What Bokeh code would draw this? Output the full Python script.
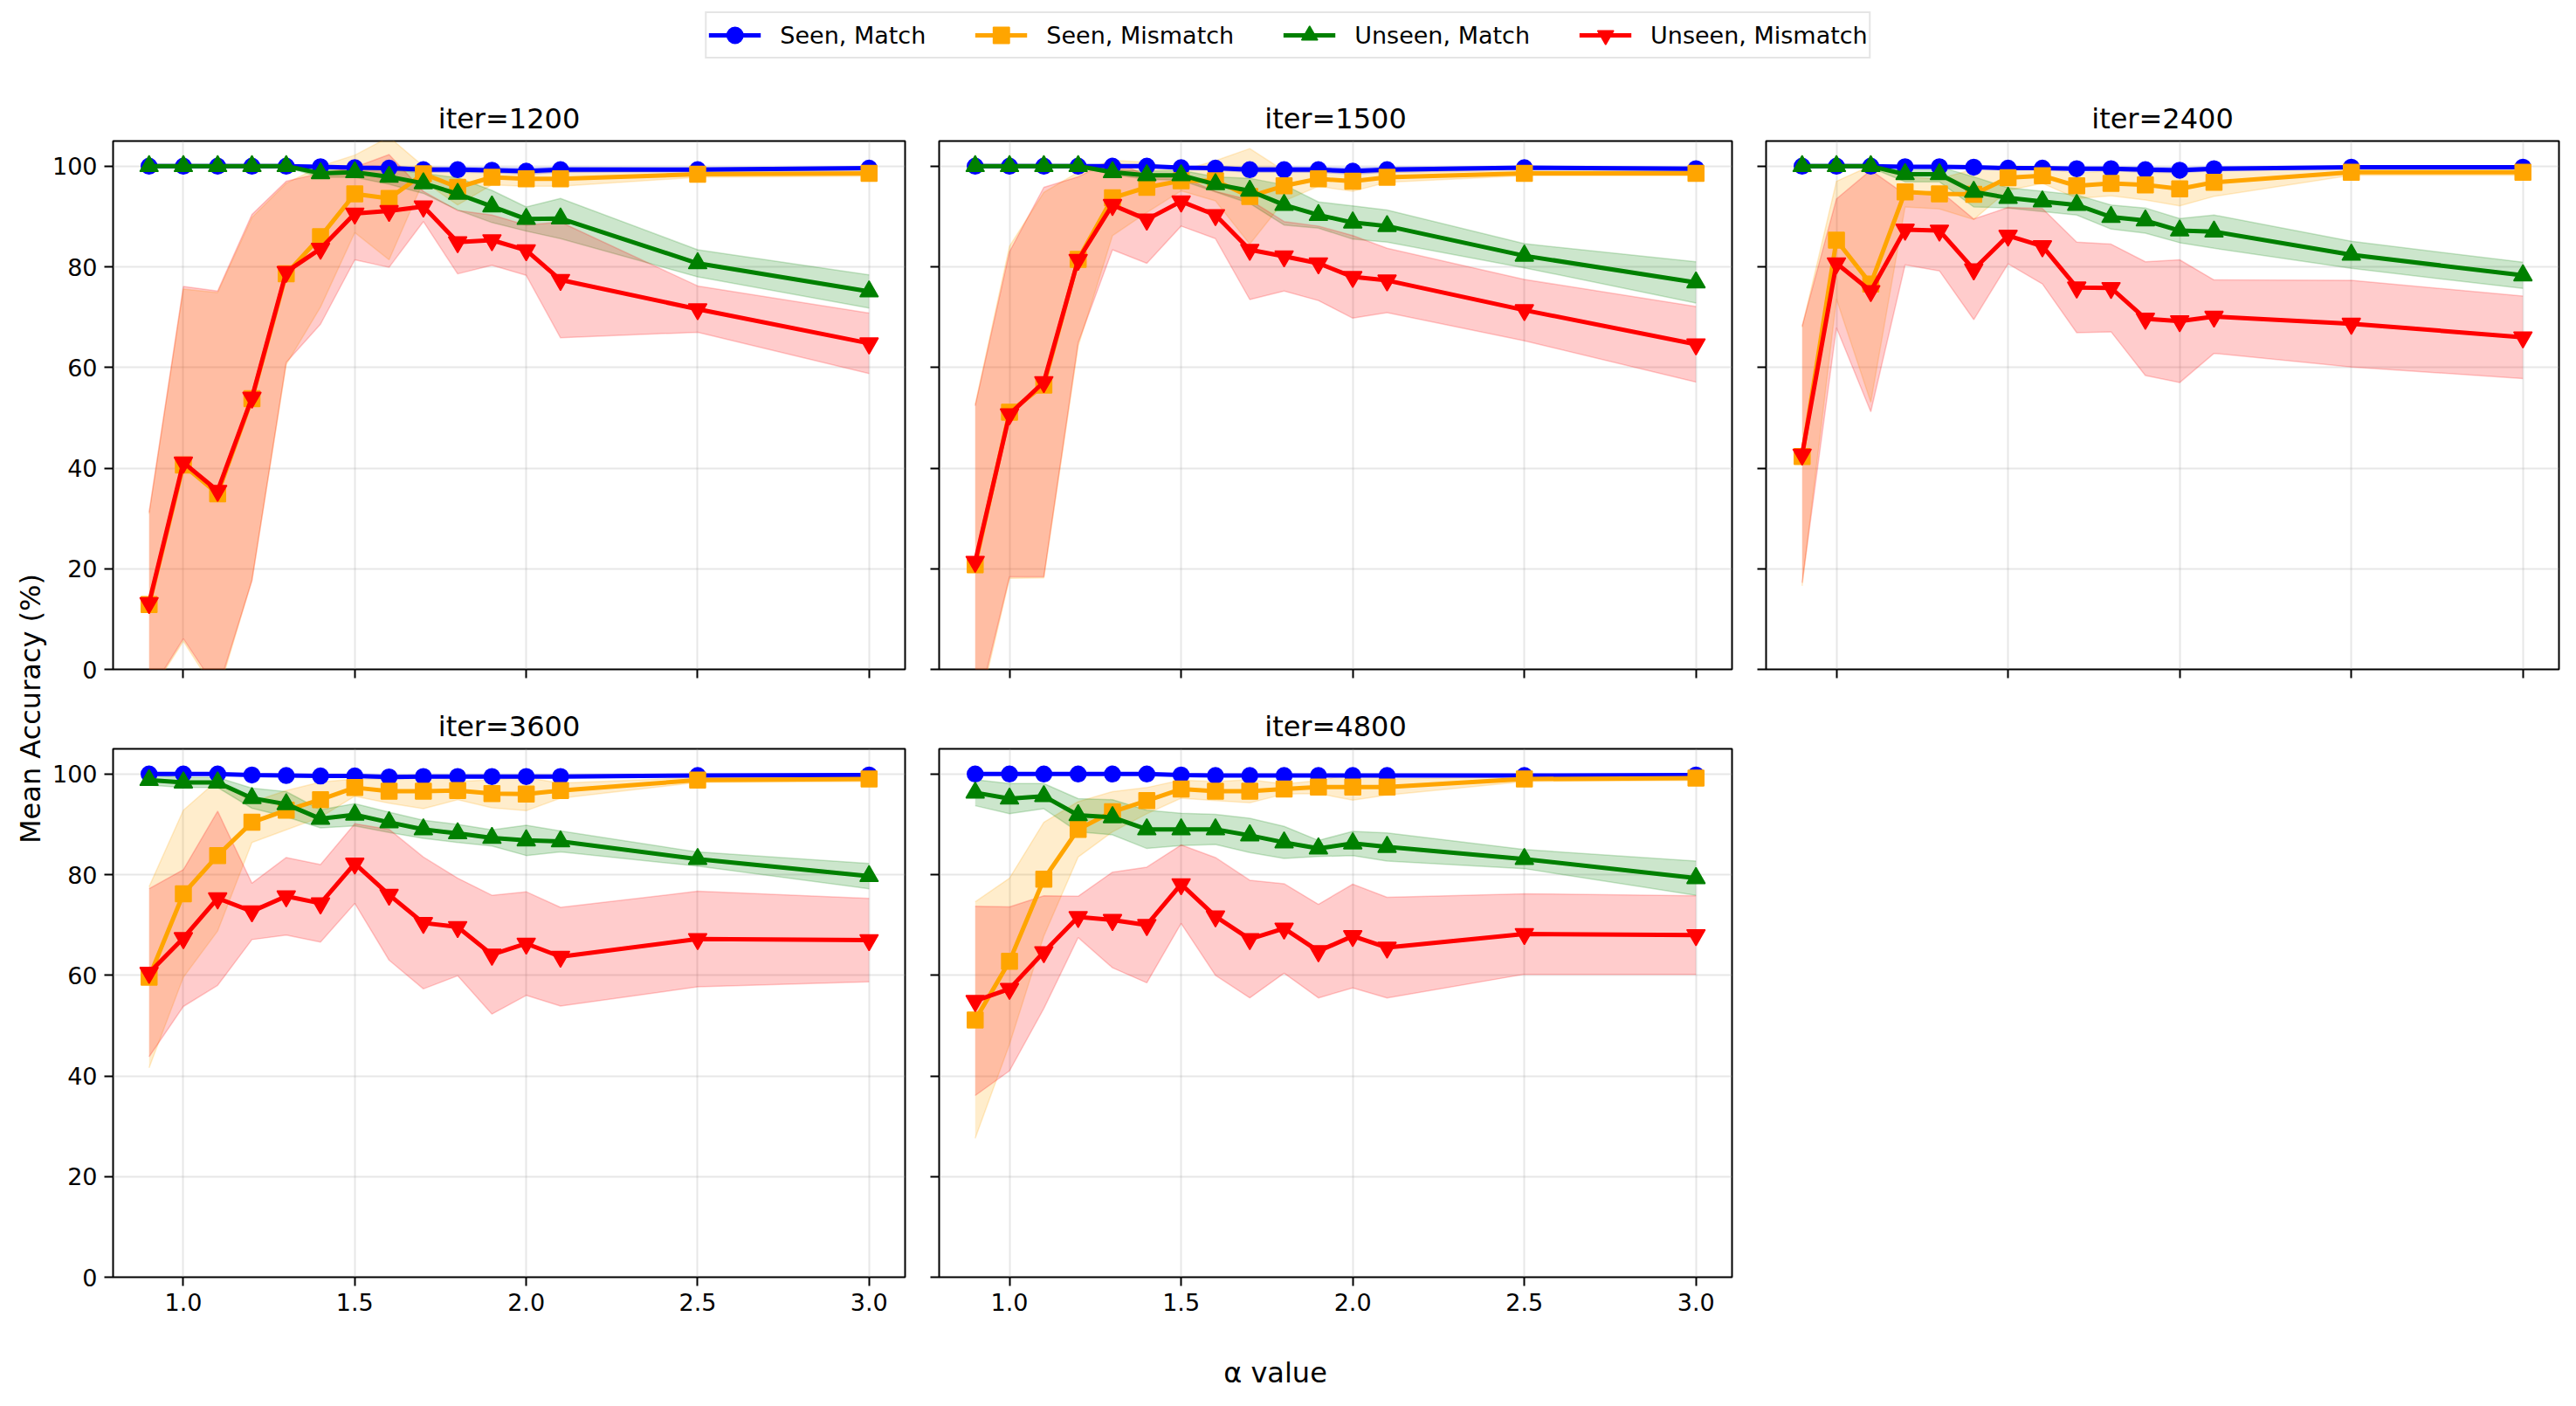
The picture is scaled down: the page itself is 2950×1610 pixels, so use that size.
import math

from bokeh.core.properties import value
from bokeh.embed import file_html
from bokeh.layouts import column, row
from bokeh.models import (FixedTicker, Legend, LegendItem, PrintfTickFormatter,
                          Range1d, Spacer)
from bokeh.plotting import figure
from bokeh.resources import INLINE

# ---------------------------------------------------------------- data
alphas = [0.9, 1.0, 1.1, 1.2, 1.3, 1.4, 1.5, 1.6, 1.7, 1.8, 1.9, 2.0, 2.1, 2.5, 3.0]
x_ticks = [1.0, 1.5, 2.0, 2.5, 3.0]
y_ticks = [0, 20, 40, 60, 80, 100]
iters = [1200, 1500, 2400, 3600, 4800]

# iter = 1200
seen_match_1200 = [100, 100, 100, 100, 100, 99.9, 99.7, 99.6, 99.3, 99.3, 99.2, 99.0, 99.3, 99.3, 99.6]
seen_match_sd_1200 = [0, 0, 0, 0, 0, 0.2, 0.3, 0.4, 0.5, 0.5, 0.5, 0.6, 0.5, 0.4, 0.3]
seen_mis_1200 = [12.9, 40.6, 34.9, 53.8, 78.6, 86.0, 94.5, 93.6, 98.5, 95.8, 97.8, 97.5, 97.5, 98.4, 98.6]
seen_mis_sd_1200 = [18, 35, 40, 36, 18, 14, 7.7, 12.2, 1.5, 3.5, 1.5, 1.5, 1.5, 0.6, 0.6]
unseen_match_1200 = [100, 100, 100, 100, 100, 98.6, 98.8, 97.9, 96.6, 94.5, 92.0, 89.5, 89.6, 80.7, 75.1]
unseen_match_sd_1200 = [0, 0, 0, 0, 0.2, 0.8, 1.0, 1.5, 2.0, 3.2, 3.2, 2.4, 4.0, 2.7, 3.3]
unseen_mis_1200 = [13.2, 41.1, 35.5, 54.0, 79.0, 83.6, 90.6, 91.1, 92.0, 84.9, 85.3, 83.3, 77.4, 71.6, 64.8]
unseen_mis_sd_1200 = [18, 35, 39.7, 36.4, 18, 15, 9.2, 11.2, 3.0, 6.3, 5.0, 5.0, 11.5, 4.6, 6.0]

# iter = 1500
seen_match_1500 = [100, 100, 100, 100, 100, 100, 99.7, 99.6, 99.3, 99.3, 99.3, 99.0, 99.3, 99.7, 99.5]
seen_match_sd_1500 = [0, 0, 0, 0, 0, 0.1, 0.3, 0.4, 0.5, 0.5, 0.5, 0.6, 0.5, 0.3, 0.4]
seen_mis_1500 = [20.8, 51.1, 56.5, 81.5, 93.7, 95.8, 97.1, 97.1, 94.0, 96.1, 97.5, 97.0, 97.8, 98.6, 98.6]
seen_mis_sd_1500 = [31.8, 33, 38.3, 17.3, 7.5, 5, 2, 4, 9.5, 3, 1.5, 2, 1, 0.5, 0.5]
unseen_match_1500 = [100, 100, 100, 100, 98.8, 98.2, 98.2, 96.4, 95.1, 92.3, 90.3, 88.8, 88.1, 82.2, 76.9]
unseen_match_sd_1500 = [0, 0, 0, 0, 0.5, 0.8, 1.0, 1.5, 2.5, 4.0, 2.6, 3.3, 3.2, 2.4, 4.1]
unseen_mis_1500 = [21.4, 50.7, 57.1, 81.4, 92.3, 89.4, 93.0, 90.3, 83.4, 82.1, 80.7, 78.0, 77.3, 71.4, 64.6]
unseen_mis_sd_1500 = [31, 32.3, 38.7, 16.5, 8.9, 8.7, 4.9, 4.7, 9.9, 6.9, 7.4, 8.2, 6.4, 6.1, 7.5]

# iter = 2400
seen_match_2400 = [100, 100, 100, 99.9, 99.9, 99.8, 99.6, 99.6, 99.5, 99.5, 99.3, 99.2, 99.5, 99.8, 99.8]
seen_match_sd_2400 = [0, 0, 0, 0.1, 0.1, 0.2, 0.3, 0.3, 0.4, 0.4, 0.5, 0.5, 0.4, 0.2, 0.2]
seen_mis_2400 = [42.3, 85.3, 76.6, 94.9, 94.5, 94.4, 97.7, 98.1, 96.1, 96.6, 96.3, 95.5, 96.8, 98.8, 98.8]
seen_mis_sd_2400 = [25.7, 11.7, 23.5, 3.0, 3.0, 5.0, 2.5, 1.5, 2.5, 2.5, 3.0, 3.4, 2.8, 0.6, 0.6]
unseen_match_2400 = [100, 100, 100, 98.4, 98.4, 94.9, 93.7, 93.0, 92.3, 89.9, 89.2, 87.2, 87.0, 82.4, 78.3]
unseen_match_sd_2400 = [0, 0, 0.3, 1.5, 1.5, 3.0, 2.0, 2.0, 2.0, 2.4, 2.5, 2.4, 3.3, 2.7, 2.6]
unseen_mis_2400 = [42.7, 80.7, 75.2, 87.4, 87.2, 79.5, 86.2, 84.1, 75.9, 75.8, 69.7, 69.2, 70.1, 68.7, 66.0]
unseen_mis_sd_2400 = [25.5, 12.8, 24.0, 7.0, 8.0, 10.0, 5.6, 7.5, 9.0, 8.7, 11.3, 12.2, 7.3, 8.6, 8.2]

# iter = 3600
seen_match_3600 = [100, 100, 100, 99.8, 99.7, 99.6, 99.6, 99.4, 99.5, 99.5, 99.5, 99.5, 99.5, 99.7, 99.8]
seen_match_sd_3600 = [0.1, 0.1, 0.1, 0.2, 0.2, 0.3, 0.3, 0.4, 0.3, 0.3, 0.3, 0.3, 0.3, 0.2, 0.2]
seen_mis_3600 = [59.6, 76.2, 83.8, 90.4, 92.8, 94.9, 97.3, 96.6, 96.6, 96.7, 96.1, 96.0, 96.7, 98.8, 99.0]
seen_mis_sd_3600 = [18, 16.6, 15, 4, 3.9, 3.5, 1.7, 2.4, 3.5, 1.8, 2.8, 3.3, 1.5, 0.5, 0.5]
unseen_match_3600 = [98.8, 98.3, 98.3, 95.2, 94.0, 91.1, 91.9, 90.4, 89.0, 88.2, 87.3, 86.8, 86.6, 83.1, 79.7]
unseen_match_sd_3600 = [1.0, 1.0, 1.0, 2.0, 2.5, 1.8, 2.2, 2.0, 1.8, 1.8, 1.6, 3.0, 2.1, 1.4, 2.5]
unseen_mis_3600 = [60.5, 67.4, 75.3, 72.7, 75.7, 74.3, 82.2, 76.0, 70.4, 69.6, 64.1, 66.3, 63.7, 67.2, 67.0]
unseen_mis_sd_3600 = [16.7, 13.6, 17.3, 5.6, 7.7, 7.7, 7.9, 13.0, 13.1, 9.7, 11.8, 10.3, 9.8, 9.5, 8.3]

# iter = 4800
seen_match_4800 = [100, 100, 100, 100, 100, 100, 99.8, 99.7, 99.7, 99.7, 99.7, 99.7, 99.7, 99.7, 99.8]
seen_match_sd_4800 = [0.1, 0.1, 0.1, 0.1, 0.1, 0.1, 0.2, 0.2, 0.2, 0.2, 0.2, 0.2, 0.2, 0.2, 0.2]
seen_mis_4800 = [51.1, 62.8, 79.1, 89.0, 92.5, 94.7, 97.0, 96.6, 96.6, 97.0, 97.4, 97.4, 97.4, 99.0, 99.2]
seen_mis_sd_4800 = [23.5, 16.5, 11.3, 5.5, 4.0, 2.6, 1.8, 1.9, 2.3, 1.0, 1.3, 2.6, 1.6, 0.5, 0.5]
unseen_match_4800 = [96.3, 95.1, 95.6, 91.8, 91.4, 89.0, 89.0, 89.0, 87.8, 86.4, 85.2, 86.2, 85.5, 83.1, 79.3]
unseen_match_sd_4800 = [2.6, 3.0, 2.5, 3.3, 3.5, 3.8, 3.2, 3.0, 3.4, 3.2, 1.6, 2.4, 2.8, 1.9, 3.4]
unseen_mis_4800 = [54.9, 57.3, 64.6, 71.6, 71.0, 70.0, 78.1, 71.7, 67.2, 69.3, 64.8, 67.8, 65.5, 68.2, 68.0]
unseen_mis_sd_4800 = [18.8, 16.3, 11.2, 4.1, 9.5, 11.5, 7.8, 11.7, 11.7, 8.9, 9.3, 10.3, 10.0, 8.0, 7.8]

results = {
    1200: [(seen_match_1200, seen_match_sd_1200), (seen_mis_1200, seen_mis_sd_1200),
           (unseen_match_1200, unseen_match_sd_1200), (unseen_mis_1200, unseen_mis_sd_1200)],
    1500: [(seen_match_1500, seen_match_sd_1500), (seen_mis_1500, seen_mis_sd_1500),
           (unseen_match_1500, unseen_match_sd_1500), (unseen_mis_1500, unseen_mis_sd_1500)],
    2400: [(seen_match_2400, seen_match_sd_2400), (seen_mis_2400, seen_mis_sd_2400),
           (unseen_match_2400, unseen_match_sd_2400), (unseen_mis_2400, unseen_mis_sd_2400)],
    3600: [(seen_match_3600, seen_match_sd_3600), (seen_mis_3600, seen_mis_sd_3600),
           (unseen_match_3600, unseen_match_sd_3600), (unseen_mis_3600, unseen_mis_sd_3600)],
    4800: [(seen_match_4800, seen_match_sd_4800), (seen_mis_4800, seen_mis_sd_4800),
           (unseen_match_4800, unseen_match_sd_4800), (unseen_mis_4800, unseen_mis_sd_4800)],
}

# label, colour, marker, marker size
SERIES = [
    ("Seen, Match", "blue", "circle", 18),
    ("Seen, Mismatch", "orange", "square", 18),
    ("Unseen, Match", "green", "triangle", 21),
    ("Unseen, Mismatch", "red", "inverted_triangle", 21),
]

# ---------------------------------------------------------------- styling
FONT = "DejaVu Sans"
TICK_PX = "27px"
LABEL_PX = "32px"
LINE_W = 5
FRAME_H = 605

x_range = Range1d(0.795, 3.105)
y_range = Range1d(0, 105)


def make_panel(it, frame_w, show_x, show_y, b_left, b_right, b_top, b_bottom):
    p = figure(
        frame_width=frame_w, frame_height=FRAME_H,
        x_range=x_range, y_range=y_range,
        output_backend="svg", toolbar_location=None,
        min_border_left=b_left, min_border_right=b_right,
        min_border_top=b_top, min_border_bottom=b_bottom,
        background_fill_color="white", border_fill_color="white",
    )
    p.title.text = f"iter={it}"
    p.title.align = "center"
    p.title.text_font = FONT
    p.title.text_font_size = LABEL_PX
    p.title.text_font_style = "normal"
    p.title.text_color = "black"
    p.title.standoff = 14

    p.outline_line_color = "black"
    p.outline_line_width = 2
    p.outline_line_alpha = 1

    p.xaxis.ticker = FixedTicker(ticks=x_ticks)
    p.yaxis.ticker = FixedTicker(ticks=y_ticks)
    p.xaxis.formatter = PrintfTickFormatter(format="%.1f")
    p.yaxis.formatter = PrintfTickFormatter(format="%d")
    for ax in (p.xaxis, p.yaxis):
        ax.axis_line_color = None
        ax.major_tick_line_color = "black"
        ax.major_tick_line_width = 2
        ax.major_tick_out = 10
        ax.major_tick_in = 0
        ax.minor_tick_line_color = None
        ax.major_label_text_font = FONT
        ax.major_label_text_font_size = TICK_PX
        ax.major_label_text_color = "black"
        ax.major_label_standoff = 8
    # shared axes: only the outer panels carry tick labels
    if not show_x:
        p.xaxis.major_label_text_color = None
        p.xaxis.major_label_standoff = 0
    if not show_y:
        p.yaxis.major_label_text_color = None
        p.yaxis.major_label_standoff = 0

    p.grid.grid_line_color = "#b0b0b0"
    p.grid.grid_line_alpha = 0.3
    p.grid.grid_line_width = 2

    # shaded spread (mean +/- sd) for each series
    for (mean, sd), (_, color, _, _) in zip(results[it], SERIES):
        lo = [m - s for m, s in zip(mean, sd)]
        hi = [m + s for m, s in zip(mean, sd)]
        p.varea(x=alphas, y1=lo, y2=hi, fill_color=color, fill_alpha=0.2)
        p.line(alphas, lo, line_color=color, line_alpha=0.2, line_width=1.5)
        p.line(alphas, hi, line_color=color, line_alpha=0.2, line_width=1.5)

    # mean accuracy lines with markers
    for (mean, _), (_, color, marker, size) in zip(results[it], SERIES):
        p.line(alphas, mean, line_color=color, line_width=LINE_W)
        p.scatter(alphas, mean, marker=marker, size=size,
                  fill_color=color, line_color=color, line_width=1.5)
    return p


# grid geometry (pixels)
LEG_H = 95
YSTRIP_W = 54
ROW1_TOP, ROW1_BOTTOM = 66, 25
ROW2_TOP, ROW2_BOTTOM = 66, 75
XSTRIP_H = 73
TOTAL_W = 2950

col_specs = [  # frame width, left border, right border
    (907, 75, 15),
    (908, 24, 15),
    (908, 24, 20),
]

panels = []
for i, it in enumerate(iters):
    r, c = divmod(i, 3)
    fw, bl, br = col_specs[c]
    bt, bb = (ROW1_TOP, ROW1_BOTTOM) if r == 0 else (ROW2_TOP, ROW2_BOTTOM)
    panels.append(make_panel(it, fw, show_x=(r == 1), show_y=(c == 0),
                             b_left=bl, b_right=br, b_top=bt, b_bottom=bb))

empty_w = col_specs[2][0] + col_specs[2][1] + col_specs[2][2]
empty_h = FRAME_H + ROW2_TOP + ROW2_BOTTOM
grid = column(
    row(panels[0], panels[1], panels[2]),
    row(panels[3], panels[4], Spacer(width=empty_w, height=empty_h)),
)
grid_h = (FRAME_H + ROW1_TOP + ROW1_BOTTOM) + empty_h


def strip(w, h):
    s = figure(width=w, height=h, x_range=Range1d(0, w), y_range=Range1d(0, h),
               output_backend="svg", toolbar_location=None,
               x_axis_type=None, y_axis_type=None, min_border=0,
               outline_line_color=None, background_fill_color="white",
               border_fill_color="white")
    s.xgrid.visible = False
    s.ygrid.visible = False
    return s


# shared legend across the top; the proxy glyphs sit outside the visible range
leg = strip(TOTAL_W, LEG_H)
proxy_x = [-50, -40]
proxy_y = [-50, -50]
items = []
for label, color, marker, size in SERIES:
    lr = leg.line(x=proxy_x, y=proxy_y, line_color=color, line_width=LINE_W)
    mr = leg.scatter(x=proxy_x, y=proxy_y, marker=marker, size=size,
                     fill_color=color, line_color=color, line_width=1.5)
    items.append(LegendItem(label=label, renderers=[lr, mr]))
legend = Legend(
    items=items, orientation="horizontal", location="top_center",
    margin=13, padding=2, spacing=56, label_standoff=22,
    glyph_width=60, glyph_height=46,
    label_text_font=FONT, label_text_font_size=TICK_PX, label_text_color="black",
    border_line_color="#cccccc", border_line_width=2,
    background_fill_color="white", background_fill_alpha=1,
)
leg.add_layout(legend, "center")

# shared y label on the left
ystrip = strip(YSTRIP_W, grid_h)
ystrip.text(x=[34], y=[grid_h - (811 - LEG_H)], text=["Mean Accuracy (%)"],
            angle=math.pi / 2, text_align="center", text_baseline="middle",
            text_font=value(FONT), text_font_size=LABEL_PX, text_color="black")

# shared x label at the bottom
xstrip = strip(TOTAL_W, XSTRIP_H)
xstrip.text(x=[1460], y=[XSTRIP_H - 34], text=["α value"],
            text_align="center", text_baseline="middle",
            text_font=value(FONT), text_font_size=LABEL_PX, text_color="black")

page = column(leg, row(ystrip, grid), xstrip)

with open("out.html", "w") as fh:
    fh.write(file_html(page, INLINE))
